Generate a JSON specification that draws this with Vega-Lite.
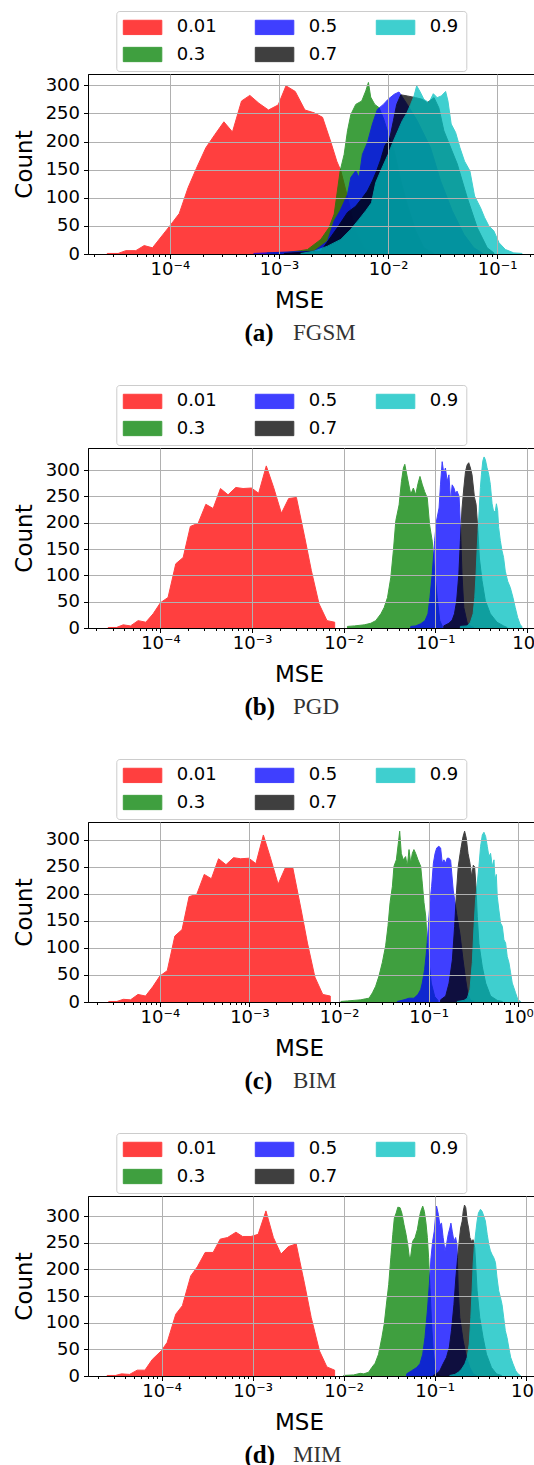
{
"$schema": "https://vega.github.io/schema/vega-lite/v6.json",
"background": "white",
"padding": {"left": 12, "top": 10, "right": 0, "bottom": 0},
"spacing": 194,
"bounds": "flush",
"config": {
  "font": "DejaVu Sans",
  "view": {"stroke": "black", "strokeWidth": 1},
  "axis": {"labelFont": "DejaVu Sans", "titleFont": "DejaVu Sans", "labelColor": "black", "titleColor": "black", "tickColor": "black", "domainColor": "black", "gridColor": "#b0b0b0", "gridWidth": 1, "titleFontWeight": "normal", "tickWidth": 1, "domainWidth": 1},
  "legend": {"orient": "none", "legendX": 28.3, "legendY": -63, "columns": 3, "padding": 7, "fillColor": "white", "strokeColor": "#cccccc", "cornerRadius": 3, "symbolType": "M-1.125,-0.894H3.6875V0.894H-1.125Z", "symbolSize": 256, "symbolStrokeWidth": 1, "labelFont": "DejaVu Sans", "labelFontSize": 18, "labelColor": "black", "labelOffset": 35.4, "rowPadding": 7.5, "columnPadding": 36, "labelExpr": "datum.label == '0.9' ? '0.9  ' : datum.label"}
},
"resolve": {"scale": {"x": "independent", "y": "independent", "color": "independent", "stroke": "independent"}},
"datasets": {
"a": [
{"eps":"0.01","mse":2.67e-5,"count":1},{"eps":"0.01","mse":3.36e-5,"count":1},{"eps":"0.01","mse":3.95e-5,"count":6},{"eps":"0.01","mse":4.88e-5,"count":6},{"eps":"0.01","mse":5.82e-5,"count":15},{"eps":"0.01","mse":6.93e-5,"count":11},{"eps":"0.01","mse":1.0e-4,"count":50},{"eps":"0.01","mse":1.22e-4,"count":72},{"eps":"0.01","mse":1.47e-4,"count":118},{"eps":"0.01","mse":1.75e-4,"count":152},{"eps":"0.01","mse":2.14e-4,"count":189},{"eps":"0.01","mse":2.58e-4,"count":212},{"eps":"0.01","mse":3.13e-4,"count":235},{"eps":"0.01","mse":3.75e-4,"count":217},{"eps":"0.01","mse":4.54e-4,"count":272},{"eps":"0.01","mse":5.41e-4,"count":282},{"eps":"0.01","mse":6.55e-4,"count":268},{"eps":"0.01","mse":8.02e-4,"count":256},{"eps":"0.01","mse":9.84e-4,"count":265},{"eps":"0.01","mse":1.16e-3,"count":299},{"eps":"0.01","mse":1.41e-3,"count":289},{"eps":"0.01","mse":1.73e-3,"count":256},{"eps":"0.01","mse":2.10e-3,"count":251},{"eps":"0.01","mse":2.51e-3,"count":243},{"eps":"0.01","mse":2.99e-3,"count":199},{"eps":"0.01","mse":3.39e-3,"count":165},{"eps":"0.01","mse":3.69e-3,"count":148},{"eps":"0.01","mse":4.27e-3,"count":100},{"eps":"0.01","mse":5.01e-3,"count":45},{"eps":"0.01","mse":6.03e-3,"count":12},{"eps":"0.01","mse":7.24e-3,"count":2},
{"eps":"0.3","mse":7.80e-4,"count":2},{"eps":"0.3","mse":1.19e-3,"count":3},{"eps":"0.3","mse":1.585e-3,"count":6},{"eps":"0.3","mse":1.83e-3,"count":8},{"eps":"0.3","mse":2.42e-3,"count":26},{"eps":"0.3","mse":2.88e-3,"count":47},{"eps":"0.3","mse":3.21e-3,"count":71},{"eps":"0.3","mse":3.64e-3,"count":148},{"eps":"0.3","mse":3.96e-3,"count":177},{"eps":"0.3","mse":4.25e-3,"count":219},{"eps":"0.3","mse":4.56e-3,"count":248},{"eps":"0.3","mse":5.06e-3,"count":266},{"eps":"0.3","mse":5.74e-3,"count":272},{"eps":"0.3","mse":6.25e-3,"count":290},{"eps":"0.3","mse":6.61e-3,"count":305},{"eps":"0.3","mse":6.93e-3,"count":279},{"eps":"0.3","mse":7.55e-3,"count":266},{"eps":"0.3","mse":8.28e-3,"count":260},{"eps":"0.3","mse":9.12e-3,"count":240},{"eps":"0.3","mse":1.0e-2,"count":215},{"eps":"0.3","mse":1.14e-2,"count":183},{"eps":"0.3","mse":1.31e-2,"count":130},{"eps":"0.3","mse":1.50e-2,"count":88},{"eps":"0.3","mse":1.79e-2,"count":41},{"eps":"0.3","mse":2.13e-2,"count":11},{"eps":"0.3","mse":2.63e-2,"count":1},
{"eps":"0.5","mse":5.89e-4,"count":1},{"eps":"0.5","mse":1.0e-3,"count":3},{"eps":"0.5","mse":1.41e-3,"count":4},{"eps":"0.5","mse":2.10e-3,"count":5},{"eps":"0.5","mse":2.79e-3,"count":23},{"eps":"0.5","mse":3.21e-3,"count":59},{"eps":"0.5","mse":3.64e-3,"count":77},{"eps":"0.5","mse":4.25e-3,"count":106},{"eps":"0.5","mse":4.56e-3,"count":136},{"eps":"0.5","mse":5.06e-3,"count":148},{"eps":"0.5","mse":5.43e-3,"count":136},{"eps":"0.5","mse":5.82e-3,"count":177},{"eps":"0.5","mse":6.47e-3,"count":198},{"eps":"0.5","mse":7.19e-3,"count":231},{"eps":"0.5","mse":7.98e-3,"count":257},{"eps":"0.5","mse":9.06e-3,"count":266},{"eps":"0.5","mse":1.0e-2,"count":275},{"eps":"0.5","mse":1.14e-2,"count":284},{"eps":"0.5","mse":1.26e-2,"count":288},{"eps":"0.5","mse":1.50e-2,"count":266},{"eps":"0.5","mse":1.85e-2,"count":237},{"eps":"0.5","mse":2.45e-2,"count":189},{"eps":"0.5","mse":3.03e-2,"count":130},{"eps":"0.5","mse":3.87e-2,"count":77},{"eps":"0.5","mse":4.95e-2,"count":35},{"eps":"0.5","mse":6.12e-2,"count":11},{"eps":"0.5","mse":7.29e-2,"count":2},
{"eps":"0.7","mse":1.12e-3,"count":1},{"eps":"0.7","mse":1.585e-3,"count":3},{"eps":"0.7","mse":2.42e-3,"count":5},{"eps":"0.7","mse":3.44e-3,"count":47},{"eps":"0.7","mse":4.25e-3,"count":74},{"eps":"0.7","mse":5.06e-3,"count":85},{"eps":"0.7","mse":5.82e-3,"count":100},{"eps":"0.7","mse":6.47e-3,"count":112},{"eps":"0.7","mse":7.19e-3,"count":130},{"eps":"0.7","mse":7.87e-3,"count":148},{"eps":"0.7","mse":8.57e-3,"count":168},{"eps":"0.7","mse":9.33e-3,"count":192},{"eps":"0.7","mse":1.04e-2,"count":207},{"eps":"0.7","mse":1.12e-2,"count":237},{"eps":"0.7","mse":1.20e-2,"count":266},{"eps":"0.7","mse":1.31e-2,"count":283},{"eps":"0.7","mse":1.50e-2,"count":281},{"eps":"0.7","mse":1.79e-2,"count":278},{"eps":"0.7","mse":2.06e-2,"count":275},{"eps":"0.7","mse":2.29e-2,"count":269},{"eps":"0.7","mse":2.64e-2,"count":278},{"eps":"0.7","mse":2.92e-2,"count":260},{"eps":"0.7","mse":3.25e-2,"count":219},{"eps":"0.7","mse":4.31e-2,"count":160},{"eps":"0.7","mse":5.32e-2,"count":100},{"eps":"0.7","mse":6.56e-2,"count":47},{"eps":"0.7","mse":8.11e-2,"count":11},{"eps":"0.7","mse":9.33e-2,"count":2},
{"eps":"0.9","mse":1.59e-3,"count":1},{"eps":"0.9","mse":2.10e-3,"count":5},{"eps":"0.9","mse":2.79e-3,"count":14},{"eps":"0.9","mse":3.69e-3,"count":26},{"eps":"0.9","mse":4.56e-3,"count":44},{"eps":"0.9","mse":5.43e-3,"count":62},{"eps":"0.9","mse":6.25e-3,"count":77},{"eps":"0.9","mse":7.05e-3,"count":91},{"eps":"0.9","mse":7.71e-3,"count":127},{"eps":"0.9","mse":8.57e-3,"count":148},{"eps":"0.9","mse":1.0e-2,"count":177},{"eps":"0.9","mse":1.12e-2,"count":201},{"eps":"0.9","mse":1.23e-2,"count":219},{"eps":"0.9","mse":1.35e-2,"count":237},{"eps":"0.9","mse":1.48e-2,"count":250},{"eps":"0.9","mse":1.61e-2,"count":266},{"eps":"0.9","mse":1.73e-2,"count":281},{"eps":"0.9","mse":1.83e-2,"count":299},{"eps":"0.9","mse":1.96e-2,"count":289},{"eps":"0.9","mse":2.13e-2,"count":275},{"eps":"0.9","mse":2.37e-2,"count":269},{"eps":"0.9","mse":2.60e-2,"count":285},{"eps":"0.9","mse":2.82e-2,"count":278},{"eps":"0.9","mse":3.08e-2,"count":281},{"eps":"0.9","mse":3.37e-2,"count":289},{"eps":"0.9","mse":3.54e-2,"count":272},{"eps":"0.9","mse":3.79e-2,"count":231},{"eps":"0.9","mse":4.16e-2,"count":216},{"eps":"0.9","mse":4.56e-2,"count":189},{"eps":"0.9","mse":5.02e-2,"count":165},{"eps":"0.9","mse":5.62e-2,"count":148},{"eps":"0.9","mse":6.21e-2,"count":103},{"eps":"0.9","mse":7.05e-2,"count":82},{"eps":"0.9","mse":7.66e-2,"count":65},{"eps":"0.9","mse":8.39e-2,"count":50},{"eps":"0.9","mse":9.33e-2,"count":41},{"eps":"0.9","mse":1.04e-1,"count":20},{"eps":"0.9","mse":1.19e-1,"count":8},{"eps":"0.9","mse":1.42e-1,"count":2},{"eps":"0.9","mse":1.69e-1,"count":1}
],
"b": [
{"eps":"0.01","mse":2.69e-5,"count":1},{"eps":"0.01","mse":3.31e-5,"count":1},{"eps":"0.01","mse":3.92e-5,"count":6},{"eps":"0.01","mse":4.71e-5,"count":4},{"eps":"0.01","mse":5.70e-5,"count":14},{"eps":"0.01","mse":6.92e-5,"count":11},{"eps":"0.01","mse":8.32e-5,"count":27},{"eps":"0.01","mse":1.0e-4,"count":48},{"eps":"0.01","mse":1.21e-4,"count":58},{"eps":"0.01","mse":1.47e-4,"count":122},{"eps":"0.01","mse":1.77e-4,"count":134},{"eps":"0.01","mse":2.12e-4,"count":193},{"eps":"0.01","mse":2.58e-4,"count":199},{"eps":"0.01","mse":3.13e-4,"count":235},{"eps":"0.01","mse":3.76e-4,"count":227},{"eps":"0.01","mse":4.52e-4,"count":265},{"eps":"0.01","mse":5.47e-4,"count":253},{"eps":"0.01","mse":6.64e-4,"count":267},{"eps":"0.01","mse":7.98e-4,"count":265},{"eps":"0.01","mse":9.84e-4,"count":266},{"eps":"0.01","mse":1.18e-3,"count":256},{"eps":"0.01","mse":1.43e-3,"count":308},{"eps":"0.01","mse":1.72e-3,"count":267},{"eps":"0.01","mse":2.09e-3,"count":218},{"eps":"0.01","mse":2.51e-3,"count":246},{"eps":"0.01","mse":3.05e-3,"count":248},{"eps":"0.01","mse":3.76e-3,"count":172},{"eps":"0.01","mse":4.44e-3,"count":109},{"eps":"0.01","mse":5.38e-3,"count":46},{"eps":"0.01","mse":6.58e-3,"count":14},{"eps":"0.01","mse":7.98e-3,"count":11},
{"eps":"0.3","mse":1.10e-2,"count":3},{"eps":"0.3","mse":1.31e-2,"count":4},{"eps":"0.3","mse":1.68e-2,"count":6},{"eps":"0.3","mse":1.98e-2,"count":9},{"eps":"0.3","mse":2.24e-2,"count":14},{"eps":"0.3","mse":2.55e-2,"count":27},{"eps":"0.3","mse":2.77e-2,"count":39},{"eps":"0.3","mse":3.01e-2,"count":58},{"eps":"0.3","mse":3.27e-2,"count":96},{"eps":"0.3","mse":3.49e-2,"count":147},{"eps":"0.3","mse":3.71e-2,"count":204},{"eps":"0.3","mse":4.03e-2,"count":234},{"eps":"0.3","mse":4.27e-2,"count":278},{"eps":"0.3","mse":4.49e-2,"count":304},{"eps":"0.3","mse":4.65e-2,"count":311},{"eps":"0.3","mse":4.97e-2,"count":285},{"eps":"0.3","mse":5.40e-2,"count":254},{"eps":"0.3","mse":5.77e-2,"count":266},{"eps":"0.3","mse":6.11e-2,"count":253},{"eps":"0.3","mse":6.49e-2,"count":275},{"eps":"0.3","mse":6.81e-2,"count":288},{"eps":"0.3","mse":7.23e-2,"count":272},{"eps":"0.3","mse":7.66e-2,"count":259},{"eps":"0.3","mse":8.18e-2,"count":247},{"eps":"0.3","mse":8.67e-2,"count":196},{"eps":"0.3","mse":9.27e-2,"count":165},{"eps":"0.3","mse":9.84e-2,"count":108},{"eps":"0.3","mse":1.05e-1,"count":58},{"eps":"0.3","mse":1.12e-1,"count":14},{"eps":"0.3","mse":1.19e-1,"count":4},
{"eps":"0.5","mse":5.40e-2,"count":3},{"eps":"0.5","mse":6.11e-2,"count":4},{"eps":"0.5","mse":6.93e-2,"count":8},{"eps":"0.5","mse":7.73e-2,"count":14},{"eps":"0.5","mse":8.32e-2,"count":27},{"eps":"0.5","mse":8.75e-2,"count":58},{"eps":"0.5","mse":9.27e-2,"count":103},{"eps":"0.5","mse":9.84e-2,"count":166},{"eps":"0.5","mse":1.03e-1,"count":203},{"eps":"0.5","mse":1.10e-1,"count":228},{"eps":"0.5","mse":1.14e-1,"count":272},{"eps":"0.5","mse":1.19e-1,"count":316},{"eps":"0.5","mse":1.24e-1,"count":294},{"eps":"0.5","mse":1.29e-1,"count":304},{"eps":"0.5","mse":1.35e-1,"count":279},{"eps":"0.5","mse":1.41e-1,"count":291},{"eps":"0.5","mse":1.47e-1,"count":241},{"eps":"0.5","mse":1.53e-1,"count":272},{"eps":"0.5","mse":1.60e-1,"count":266},{"eps":"0.5","mse":1.66e-1,"count":256},{"eps":"0.5","mse":1.73e-1,"count":260},{"eps":"0.5","mse":1.82e-1,"count":250},{"eps":"0.5","mse":1.88e-1,"count":196},{"eps":"0.5","mse":1.96e-1,"count":101},{"eps":"0.5","mse":2.05e-1,"count":39},{"eps":"0.5","mse":2.23e-1,"count":10},{"eps":"0.5","mse":2.42e-1,"count":4},{"eps":"0.5","mse":2.63e-1,"count":1},
{"eps":"0.7","mse":1.24e-1,"count":4},{"eps":"0.7","mse":1.41e-1,"count":9},{"eps":"0.7","mse":1.53e-1,"count":15},{"eps":"0.7","mse":1.62e-1,"count":27},{"eps":"0.7","mse":1.71e-1,"count":51},{"eps":"0.7","mse":1.81e-1,"count":103},{"eps":"0.7","mse":1.88e-1,"count":166},{"eps":"0.7","mse":1.96e-1,"count":228},{"eps":"0.7","mse":2.05e-1,"count":266},{"eps":"0.7","mse":2.14e-1,"count":298},{"eps":"0.7","mse":2.23e-1,"count":310},{"eps":"0.7","mse":2.32e-1,"count":314},{"eps":"0.7","mse":2.42e-1,"count":304},{"eps":"0.7","mse":2.52e-1,"count":291},{"eps":"0.7","mse":2.68e-1,"count":248},{"eps":"0.7","mse":2.79e-1,"count":235},{"eps":"0.7","mse":2.91e-1,"count":190},{"eps":"0.7","mse":3.03e-1,"count":133},{"eps":"0.7","mse":3.24e-1,"count":90},{"eps":"0.7","mse":3.52e-1,"count":52},{"eps":"0.7","mse":3.99e-1,"count":27},{"eps":"0.7","mse":4.72e-1,"count":11},{"eps":"0.7","mse":5.57e-1,"count":4},{"eps":"0.7","mse":6.07e-1,"count":1},
{"eps":"0.9","mse":1.88e-1,"count":3},{"eps":"0.9","mse":2.23e-1,"count":4},{"eps":"0.9","mse":2.42e-1,"count":11},{"eps":"0.9","mse":2.59e-1,"count":27},{"eps":"0.9","mse":2.70e-1,"count":58},{"eps":"0.9","mse":2.79e-1,"count":103},{"eps":"0.9","mse":2.86e-1,"count":147},{"eps":"0.9","mse":2.93e-1,"count":184},{"eps":"0.9","mse":3.01e-1,"count":222},{"eps":"0.9","mse":3.11e-1,"count":267},{"eps":"0.9","mse":3.19e-1,"count":291},{"eps":"0.9","mse":3.30e-1,"count":317},{"eps":"0.9","mse":3.41e-1,"count":325},{"eps":"0.9","mse":3.52e-1,"count":320},{"eps":"0.9","mse":3.67e-1,"count":305},{"eps":"0.9","mse":3.83e-1,"count":292},{"eps":"0.9","mse":3.99e-1,"count":273},{"eps":"0.9","mse":4.17e-1,"count":236},{"eps":"0.9","mse":4.35e-1,"count":220},{"eps":"0.9","mse":4.53e-1,"count":223},{"eps":"0.9","mse":4.65e-1,"count":236},{"eps":"0.9","mse":4.80e-1,"count":223},{"eps":"0.9","mse":4.92e-1,"count":191},{"eps":"0.9","mse":5.13e-1,"count":166},{"eps":"0.9","mse":5.35e-1,"count":147},{"eps":"0.9","mse":5.57e-1,"count":134},{"eps":"0.9","mse":5.81e-1,"count":108},{"eps":"0.9","mse":6.17e-1,"count":89},{"eps":"0.9","mse":6.59e-1,"count":77},{"eps":"0.9","mse":7.05e-1,"count":58},{"eps":"0.9","mse":7.46e-1,"count":39},{"eps":"0.9","mse":7.93e-1,"count":20},{"eps":"0.9","mse":8.47e-1,"count":6},{"eps":"0.9","mse":8.83e-1,"count":3}
],
"c": [
{"eps":"0.01","mse":2.69e-5,"count":1},{"eps":"0.01","mse":3.31e-5,"count":1},{"eps":"0.01","mse":3.92e-5,"count":5},{"eps":"0.01","mse":4.71e-5,"count":4},{"eps":"0.01","mse":5.70e-5,"count":14},{"eps":"0.01","mse":6.92e-5,"count":11},{"eps":"0.01","mse":8.32e-5,"count":28},{"eps":"0.01","mse":1.0e-4,"count":48},{"eps":"0.01","mse":1.21e-4,"count":58},{"eps":"0.01","mse":1.47e-4,"count":122},{"eps":"0.01","mse":1.77e-4,"count":134},{"eps":"0.01","mse":2.12e-4,"count":195},{"eps":"0.01","mse":2.58e-4,"count":199},{"eps":"0.01","mse":3.13e-4,"count":236},{"eps":"0.01","mse":3.76e-4,"count":228},{"eps":"0.01","mse":4.52e-4,"count":265},{"eps":"0.01","mse":5.47e-4,"count":254},{"eps":"0.01","mse":6.64e-4,"count":267},{"eps":"0.01","mse":7.98e-4,"count":265},{"eps":"0.01","mse":9.84e-4,"count":266},{"eps":"0.01","mse":1.18e-3,"count":256},{"eps":"0.01","mse":1.43e-3,"count":309},{"eps":"0.01","mse":1.72e-3,"count":266},{"eps":"0.01","mse":2.09e-3,"count":218},{"eps":"0.01","mse":2.51e-3,"count":248},{"eps":"0.01","mse":3.05e-3,"count":248},{"eps":"0.01","mse":3.76e-3,"count":172},{"eps":"0.01","mse":4.44e-3,"count":109},{"eps":"0.01","mse":5.38e-3,"count":46},{"eps":"0.01","mse":6.58e-3,"count":14},{"eps":"0.01","mse":7.98e-3,"count":11},
{"eps":"0.3","mse":1.05e-2,"count":1},{"eps":"0.3","mse":1.24e-2,"count":2},{"eps":"0.3","mse":1.47e-2,"count":3},{"eps":"0.3","mse":1.75e-2,"count":4},{"eps":"0.3","mse":1.98e-2,"count":6},{"eps":"0.3","mse":2.16e-2,"count":7},{"eps":"0.3","mse":2.36e-2,"count":17},{"eps":"0.3","mse":2.56e-2,"count":29},{"eps":"0.3","mse":2.79e-2,"count":48},{"eps":"0.3","mse":3.04e-2,"count":73},{"eps":"0.3","mse":3.31e-2,"count":104},{"eps":"0.3","mse":3.52e-2,"count":141},{"eps":"0.3","mse":3.71e-2,"count":184},{"eps":"0.3","mse":3.94e-2,"count":214},{"eps":"0.3","mse":4.10e-2,"count":251},{"eps":"0.3","mse":4.36e-2,"count":263},{"eps":"0.3","mse":4.59e-2,"count":294},{"eps":"0.3","mse":4.75e-2,"count":316},{"eps":"0.3","mse":4.95e-2,"count":275},{"eps":"0.3","mse":5.21e-2,"count":263},{"eps":"0.3","mse":5.53e-2,"count":269},{"eps":"0.3","mse":5.78e-2,"count":251},{"eps":"0.3","mse":6.04e-2,"count":282},{"eps":"0.3","mse":6.30e-2,"count":257},{"eps":"0.3","mse":6.58e-2,"count":275},{"eps":"0.3","mse":6.85e-2,"count":282},{"eps":"0.3","mse":7.16e-2,"count":275},{"eps":"0.3","mse":7.60e-2,"count":263},{"eps":"0.3","mse":8.15e-2,"count":251},{"eps":"0.3","mse":8.49e-2,"count":220},{"eps":"0.3","mse":8.87e-2,"count":184},{"eps":"0.3","mse":9.27e-2,"count":159},{"eps":"0.3","mse":9.66e-2,"count":110},{"eps":"0.3","mse":1.01e-1,"count":73},{"eps":"0.3","mse":1.07e-1,"count":35},{"eps":"0.3","mse":1.17e-1,"count":10},{"eps":"0.3","mse":1.27e-1,"count":3},
{"eps":"0.5","mse":4.48e-2,"count":1},{"eps":"0.5","mse":5.31e-2,"count":4},{"eps":"0.5","mse":6.04e-2,"count":7},{"eps":"0.5","mse":6.85e-2,"count":7},{"eps":"0.5","mse":7.60e-2,"count":14},{"eps":"0.5","mse":8.15e-2,"count":23},{"eps":"0.5","mse":8.49e-2,"count":35},{"eps":"0.5","mse":9.02e-2,"count":60},{"eps":"0.5","mse":9.51e-2,"count":97},{"eps":"0.5","mse":9.91e-2,"count":140},{"eps":"0.5","mse":1.04e-1,"count":189},{"eps":"0.5","mse":1.08e-1,"count":214},{"eps":"0.5","mse":1.13e-1,"count":257},{"eps":"0.5","mse":1.18e-1,"count":275},{"eps":"0.5","mse":1.23e-1,"count":285},{"eps":"0.5","mse":1.30e-1,"count":288},{"eps":"0.5","mse":1.36e-1,"count":285},{"eps":"0.5","mse":1.42e-1,"count":257},{"eps":"0.5","mse":1.48e-1,"count":263},{"eps":"0.5","mse":1.55e-1,"count":257},{"eps":"0.5","mse":1.61e-1,"count":266},{"eps":"0.5","mse":1.69e-1,"count":266},{"eps":"0.5","mse":1.76e-1,"count":262},{"eps":"0.5","mse":1.88e-1,"count":207},{"eps":"0.5","mse":2.05e-1,"count":164},{"eps":"0.5","mse":2.23e-1,"count":127},{"eps":"0.5","mse":2.42e-1,"count":78},{"eps":"0.5","mse":2.59e-1,"count":41},{"eps":"0.5","mse":2.75e-1,"count":14},{"eps":"0.5","mse":2.94e-1,"count":3},{"eps":"0.5","mse":3.21e-1,"count":1},
{"eps":"0.7","mse":1.36e-1,"count":4},{"eps":"0.7","mse":1.55e-1,"count":11},{"eps":"0.7","mse":1.69e-1,"count":35},{"eps":"0.7","mse":1.84e-1,"count":78},{"eps":"0.7","mse":1.95e-1,"count":140},{"eps":"0.7","mse":2.05e-1,"count":207},{"eps":"0.7","mse":2.14e-1,"count":251},{"eps":"0.7","mse":2.28e-1,"count":282},{"eps":"0.7","mse":2.42e-1,"count":306},{"eps":"0.7","mse":2.52e-1,"count":316},{"eps":"0.7","mse":2.63e-1,"count":303},{"eps":"0.7","mse":2.75e-1,"count":275},{"eps":"0.7","mse":2.89e-1,"count":257},{"eps":"0.7","mse":3.02e-1,"count":232},{"eps":"0.7","mse":3.15e-1,"count":253},{"eps":"0.7","mse":3.26e-1,"count":250},{"eps":"0.7","mse":3.37e-1,"count":215},{"eps":"0.7","mse":3.49e-1,"count":158},{"eps":"0.7","mse":3.64e-1,"count":108},{"eps":"0.7","mse":3.97e-1,"count":65},{"eps":"0.7","mse":4.33e-1,"count":35},{"eps":"0.7","mse":4.91e-1,"count":11},{"eps":"0.7","mse":5.83e-1,"count":3},{"eps":"0.7","mse":6.64e-1,"count":1},
{"eps":"0.9","mse":2.09e-1,"count":1},{"eps":"0.9","mse":2.48e-1,"count":3},{"eps":"0.9","mse":2.70e-1,"count":7},{"eps":"0.9","mse":2.89e-1,"count":23},{"eps":"0.9","mse":3.07e-1,"count":73},{"eps":"0.9","mse":3.21e-1,"count":140},{"eps":"0.9","mse":3.34e-1,"count":189},{"eps":"0.9","mse":3.49e-1,"count":220},{"eps":"0.9","mse":3.64e-1,"count":251},{"eps":"0.9","mse":3.80e-1,"count":288},{"eps":"0.9","mse":3.97e-1,"count":309},{"eps":"0.9","mse":4.14e-1,"count":314},{"eps":"0.9","mse":4.33e-1,"count":306},{"eps":"0.9","mse":4.51e-1,"count":288},{"eps":"0.9","mse":4.71e-1,"count":269},{"eps":"0.9","mse":4.91e-1,"count":275},{"eps":"0.9","mse":5.13e-1,"count":251},{"eps":"0.9","mse":5.36e-1,"count":263},{"eps":"0.9","mse":5.50e-1,"count":226},{"eps":"0.9","mse":5.69e-1,"count":236},{"eps":"0.9","mse":5.83e-1,"count":195},{"eps":"0.9","mse":6.08e-1,"count":170},{"eps":"0.9","mse":6.35e-1,"count":146},{"eps":"0.9","mse":6.64e-1,"count":140},{"eps":"0.9","mse":6.92e-1,"count":115},{"eps":"0.9","mse":7.23e-1,"count":109},{"eps":"0.9","mse":7.53e-1,"count":84},{"eps":"0.9","mse":7.87e-1,"count":73},{"eps":"0.9","mse":8.22e-1,"count":54},{"eps":"0.9","mse":8.57e-1,"count":35},{"eps":"0.9","mse":8.95e-1,"count":26},{"eps":"0.9","mse":9.33e-1,"count":17},{"eps":"0.9","mse":9.91e-1,"count":4},{"eps":"0.9","mse":1.062,"count":1}
],
"d": [
{"eps":"0.01","mse":2.52e-5,"count":1},{"eps":"0.01","mse":3.11e-5,"count":1},{"eps":"0.01","mse":3.62e-5,"count":4},{"eps":"0.01","mse":4.44e-5,"count":3},{"eps":"0.01","mse":5.40e-5,"count":11},{"eps":"0.01","mse":6.55e-5,"count":11},{"eps":"0.01","mse":7.89e-5,"count":31},{"eps":"0.01","mse":1.0e-4,"count":48},{"eps":"0.01","mse":1.15e-4,"count":63},{"eps":"0.01","mse":1.43e-4,"count":116},{"eps":"0.01","mse":1.69e-4,"count":132},{"eps":"0.01","mse":2.09e-4,"count":188},{"eps":"0.01","mse":2.47e-4,"count":205},{"eps":"0.01","mse":3.01e-4,"count":232},{"eps":"0.01","mse":3.68e-4,"count":232},{"eps":"0.01","mse":4.40e-4,"count":257},{"eps":"0.01","mse":5.30e-4,"count":260},{"eps":"0.01","mse":6.55e-4,"count":270},{"eps":"0.01","mse":7.76e-4,"count":262},{"eps":"0.01","mse":9.59e-4,"count":262},{"eps":"0.01","mse":1.15e-3,"count":266},{"eps":"0.01","mse":1.40e-3,"count":310},{"eps":"0.01","mse":1.69e-3,"count":260},{"eps":"0.01","mse":2.05e-3,"count":229},{"eps":"0.01","mse":2.47e-3,"count":243},{"eps":"0.01","mse":3.01e-3,"count":248},{"eps":"0.01","mse":3.72e-3,"count":173},{"eps":"0.01","mse":4.40e-3,"count":110},{"eps":"0.01","mse":5.43e-3,"count":47},{"eps":"0.01","mse":6.55e-3,"count":17},{"eps":"0.01","mse":7.96e-3,"count":11},
{"eps":"0.3","mse":1.0e-2,"count":1},{"eps":"0.3","mse":1.29e-2,"count":2},{"eps":"0.3","mse":1.52e-2,"count":5},{"eps":"0.3","mse":1.66e-2,"count":4},{"eps":"0.3","mse":1.88e-2,"count":7},{"eps":"0.3","mse":2.04e-2,"count":16},{"eps":"0.3","mse":2.22e-2,"count":24},{"eps":"0.3","mse":2.42e-2,"count":41},{"eps":"0.3","mse":2.63e-2,"count":72},{"eps":"0.3","mse":2.79e-2,"count":97},{"eps":"0.3","mse":2.98e-2,"count":141},{"eps":"0.3","mse":3.13e-2,"count":172},{"eps":"0.3","mse":3.30e-2,"count":222},{"eps":"0.3","mse":3.47e-2,"count":266},{"eps":"0.3","mse":3.61e-2,"count":297},{"eps":"0.3","mse":3.78e-2,"count":306},{"eps":"0.3","mse":3.94e-2,"count":317},{"eps":"0.3","mse":4.17e-2,"count":316},{"eps":"0.3","mse":4.36e-2,"count":306},{"eps":"0.3","mse":4.61e-2,"count":284},{"eps":"0.3","mse":4.85e-2,"count":266},{"eps":"0.3","mse":5.06e-2,"count":247},{"eps":"0.3","mse":5.28e-2,"count":222},{"eps":"0.3","mse":5.46e-2,"count":225},{"eps":"0.3","mse":5.74e-2,"count":253},{"eps":"0.3","mse":6.10e-2,"count":260},{"eps":"0.3","mse":6.46e-2,"count":275},{"eps":"0.3","mse":6.79e-2,"count":297},{"eps":"0.3","mse":7.03e-2,"count":309},{"eps":"0.3","mse":7.40e-2,"count":319},{"eps":"0.3","mse":7.71e-2,"count":309},{"eps":"0.3","mse":8.04e-2,"count":287},{"eps":"0.3","mse":8.32e-2,"count":260},{"eps":"0.3","mse":8.59e-2,"count":222},{"eps":"0.3","mse":8.89e-2,"count":166},{"eps":"0.3","mse":9.27e-2,"count":97},{"eps":"0.3","mse":9.66e-2,"count":47},{"eps":"0.3","mse":1.01e-1,"count":16},{"eps":"0.3","mse":1.07e-1,"count":4},{"eps":"0.3","mse":1.14e-1,"count":1},
{"eps":"0.5","mse":4.93e-2,"count":4},{"eps":"0.5","mse":5.60e-2,"count":10},{"eps":"0.5","mse":6.35e-2,"count":16},{"eps":"0.5","mse":6.90e-2,"count":23},{"eps":"0.5","mse":7.40e-2,"count":41},{"eps":"0.5","mse":7.83e-2,"count":72},{"eps":"0.5","mse":8.32e-2,"count":122},{"eps":"0.5","mse":8.75e-2,"count":172},{"eps":"0.5","mse":9.12e-2,"count":222},{"eps":"0.5","mse":9.51e-2,"count":253},{"eps":"0.5","mse":9.91e-2,"count":272},{"eps":"0.5","mse":1.02e-1,"count":297},{"eps":"0.5","mse":1.05e-1,"count":319},{"eps":"0.5","mse":1.10e-1,"count":303},{"eps":"0.5","mse":1.14e-1,"count":284},{"eps":"0.5","mse":1.19e-1,"count":287},{"eps":"0.5","mse":1.24e-1,"count":260},{"eps":"0.5","mse":1.30e-1,"count":235},{"eps":"0.5","mse":1.35e-1,"count":247},{"eps":"0.5","mse":1.41e-1,"count":266},{"eps":"0.5","mse":1.47e-1,"count":278},{"eps":"0.5","mse":1.51e-1,"count":287},{"eps":"0.5","mse":1.56e-1,"count":272},{"eps":"0.5","mse":1.63e-1,"count":253},{"eps":"0.5","mse":1.70e-1,"count":260},{"eps":"0.5","mse":1.76e-1,"count":247},{"eps":"0.5","mse":1.82e-1,"count":160},{"eps":"0.5","mse":1.89e-1,"count":110},{"eps":"0.5","mse":2.06e-1,"count":66},{"eps":"0.5","mse":2.24e-1,"count":35},{"eps":"0.5","mse":2.44e-1,"count":16},{"eps":"0.5","mse":2.65e-1,"count":4},{"eps":"0.5","mse":2.88e-1,"count":1},
{"eps":"0.7","mse":9.66e-2,"count":1},{"eps":"0.7","mse":1.05e-1,"count":4},{"eps":"0.7","mse":1.14e-1,"count":10},{"eps":"0.7","mse":1.24e-1,"count":23},{"eps":"0.7","mse":1.35e-1,"count":35},{"eps":"0.7","mse":1.45e-1,"count":54},{"eps":"0.7","mse":1.53e-1,"count":85},{"eps":"0.7","mse":1.63e-1,"count":134},{"eps":"0.7","mse":1.71e-1,"count":184},{"eps":"0.7","mse":1.79e-1,"count":222},{"eps":"0.7","mse":1.86e-1,"count":253},{"eps":"0.7","mse":1.93e-1,"count":278},{"eps":"0.7","mse":2.01e-1,"count":291},{"eps":"0.7","mse":2.06e-1,"count":309},{"eps":"0.7","mse":2.13e-1,"count":321},{"eps":"0.7","mse":2.20e-1,"count":316},{"eps":"0.7","mse":2.28e-1,"count":291},{"eps":"0.7","mse":2.36e-1,"count":278},{"eps":"0.7","mse":2.44e-1,"count":260},{"eps":"0.7","mse":2.54e-1,"count":253},{"eps":"0.7","mse":2.65e-1,"count":256},{"eps":"0.7","mse":2.76e-1,"count":241},{"eps":"0.7","mse":2.84e-1,"count":203},{"eps":"0.7","mse":2.93e-1,"count":160},{"eps":"0.7","mse":3.13e-1,"count":110},{"eps":"0.7","mse":3.41e-1,"count":72},{"eps":"0.7","mse":3.71e-1,"count":41},{"eps":"0.7","mse":4.21e-1,"count":16},{"eps":"0.7","mse":4.78e-1,"count":4},{"eps":"0.7","mse":5.42e-1,"count":1},
{"eps":"0.9","mse":1.47e-1,"count":1},{"eps":"0.9","mse":1.67e-1,"count":3},{"eps":"0.9","mse":1.82e-1,"count":7},{"eps":"0.9","mse":1.98e-1,"count":13},{"eps":"0.9","mse":2.15e-1,"count":23},{"eps":"0.9","mse":2.28e-1,"count":35},{"eps":"0.9","mse":2.40e-1,"count":60},{"eps":"0.9","mse":2.50e-1,"count":110},{"eps":"0.9","mse":2.58e-1,"count":160},{"eps":"0.9","mse":2.65e-1,"count":210},{"eps":"0.9","mse":2.74e-1,"count":247},{"eps":"0.9","mse":2.84e-1,"count":272},{"eps":"0.9","mse":2.93e-1,"count":291},{"eps":"0.9","mse":3.03e-1,"count":306},{"eps":"0.9","mse":3.19e-1,"count":313},{"eps":"0.9","mse":3.33e-1,"count":309},{"eps":"0.9","mse":3.47e-1,"count":300},{"eps":"0.9","mse":3.61e-1,"count":291},{"eps":"0.9","mse":3.78e-1,"count":266},{"eps":"0.9","mse":3.94e-1,"count":247},{"eps":"0.9","mse":4.10e-1,"count":235},{"eps":"0.9","mse":4.28e-1,"count":228},{"eps":"0.9","mse":4.47e-1,"count":222},{"eps":"0.9","mse":4.66e-1,"count":213},{"eps":"0.9","mse":4.85e-1,"count":184},{"eps":"0.9","mse":5.06e-1,"count":160},{"eps":"0.9","mse":5.28e-1,"count":148},{"eps":"0.9","mse":5.51e-1,"count":134},{"eps":"0.9","mse":5.74e-1,"count":110},{"eps":"0.9","mse":5.98e-1,"count":85},{"eps":"0.9","mse":6.25e-1,"count":72},{"eps":"0.9","mse":6.52e-1,"count":54},{"eps":"0.9","mse":6.85e-1,"count":35},{"eps":"0.9","mse":7.26e-1,"count":23},{"eps":"0.9","mse":7.78e-1,"count":10},{"eps":"0.9","mse":8.24e-1,"count":4},{"eps":"0.9","mse":8.75e-1,"count":1}
]
},
"vconcat": [
{
  "width": 448, "height": 180,
  "data": {"name": "a"},
  "encoding": {
    "y": {"field": "count", "type": "quantitative", "stack": null, "scale": {"domain": [0, 320], "nice": false}, "axis": {"values": [0,50,100,150,200,250,300], "grid": true, "zindex": 1, "tickSize": 4.5, "labelPadding": 4, "labelFontSize": 18, "title": "Count", "titleFontSize": 23, "titleX": -64, "titleY": 90, "titleAlign": "center", "titleBaseline": "middle", "titleAngle": -90}},
    "color": {"field": "eps", "type": "nominal", "title": null, "scale": {"domain": ["0.01","0.3","0.5","0.7","0.9"], "range": ["#ff0000","#008000","#0000ff","#000000","#00bfbf"]}},
    "stroke": {"field": "eps", "type": "nominal", "title": null, "scale": {"domain": ["0.01","0.3","0.5","0.7","0.9"], "range": ["#ff0000","#008000","#0000ff","#000000","#00bfbf"]}}
  },
  "layer": [
    {"transform": [{"filter": {"field": "eps", "equal": "0.01"}}], "mark": {"type": "area", "opacity": 0.75, "strokeWidth": 1}, "encoding": {"x": {"field": "mse", "type": "quantitative", "scale": {"type": "log", "domain": [1.778e-5, 0.2270], "nice": false}, "axis": {"orient": "bottom", "values": [0.0001, 0.001, 0.01, 0.1], "labelExpr": "datum.value < 0.0005 ? '10⁻⁴' : datum.value < 0.005 ? '10⁻³' : datum.value < 0.05 ? '10⁻²' : datum.value < 0.5 ? '10⁻¹' : '10⁰'", "grid": true, "zindex": 1, "tickSize": 4.5, "labelPadding": 2, "labelFontSize": 18, "labelFlush": false, "labelOverlap": false, "title": "MSE", "titleFontSize": 23, "titleX": 211, "titleY": 46.5, "titleAlign": "center", "titleBaseline": "middle", "titleAngle": 0}}}},
    {"transform": [{"filter": {"field": "eps", "equal": "0.3"}}], "mark": {"type": "area", "opacity": 0.75, "strokeWidth": 1}, "encoding": {"x": {"field": "mse", "type": "quantitative", "scale": {"type": "log", "domain": [1.778e-5, 0.2270], "nice": false}, "axis": {"orient": "bottom", "values": [0.00002,0.00003,0.00004,0.00005,0.00006,0.00007,0.00008,0.00009,0.0002,0.0003,0.0004,0.0005,0.0006,0.0007,0.0008,0.0009,0.002,0.003,0.004,0.005,0.006,0.007,0.008,0.009,0.02,0.03,0.04,0.05,0.06,0.07,0.08,0.09,0.2], "labels": false, "domain": false, "grid": false, "tickSize": 2.5, "title": "FGSM", "titleFont": "Liberation Serif", "titleFontSize": 23, "titleFontWeight": "normal", "titleColor": "#333333", "titleX": 204.5, "titleY": 78, "titleAlign": "left", "titleBaseline": "middle", "titleAngle": 0}}}},
    {"transform": [{"filter": {"field": "eps", "equal": "0.5"}}], "mark": {"type": "area", "opacity": 0.75, "strokeWidth": 1}, "encoding": {"x": {"field": "mse", "type": "quantitative", "scale": {"type": "log", "domain": [1.778e-5, 0.2270], "nice": false}, "axis": {"orient": "bottom", "labels": false, "ticks": false, "domain": false, "grid": false, "title": "(a)", "titleFont": "Liberation Serif", "titleFontSize": 25, "titleFontWeight": "bold", "titleColor": "black", "titleX": 156, "titleY": 78, "titleAlign": "left", "titleBaseline": "middle", "titleAngle": 0}}}},
    {"transform": [{"filter": {"field": "eps", "equal": "0.7"}}], "mark": {"type": "area", "opacity": 0.75, "strokeWidth": 1}, "encoding": {"x": {"field": "mse", "type": "quantitative", "scale": {"type": "log", "domain": [1.778e-5, 0.2270], "nice": false}, "axis": null}}},
    {"transform": [{"filter": {"field": "eps", "equal": "0.9"}}], "mark": {"type": "area", "opacity": 0.75, "strokeWidth": 1}, "encoding": {"x": {"field": "mse", "type": "quantitative", "scale": {"type": "log", "domain": [1.778e-5, 0.2270], "nice": false}, "axis": null}}}
  ],
  "resolve": {"axis": {"x": "independent"}}
},
{
  "width": 448, "height": 180,
  "data": {"name": "b"},
  "encoding": {
    "y": {"field": "count", "type": "quantitative", "stack": null, "scale": {"domain": [0, 342], "nice": false}, "axis": {"values": [0,50,100,150,200,250,300], "grid": true, "zindex": 1, "tickSize": 4.5, "labelPadding": 4, "labelFontSize": 18, "title": "Count", "titleFontSize": 23, "titleX": -64, "titleY": 90, "titleAlign": "center", "titleBaseline": "middle", "titleAngle": -90}},
    "color": {"field": "eps", "type": "nominal", "title": null, "scale": {"domain": ["0.01","0.3","0.5","0.7","0.9"], "range": ["#ff0000","#008000","#0000ff","#000000","#00bfbf"]}},
    "stroke": {"field": "eps", "type": "nominal", "title": null, "scale": {"domain": ["0.01","0.3","0.5","0.7","0.9"], "range": ["#ff0000","#008000","#0000ff","#000000","#00bfbf"]}}
  },
  "layer": [
    {"transform": [{"filter": {"field": "eps", "equal": "0.01"}}], "mark": {"type": "area", "opacity": 0.75, "strokeWidth": 1}, "encoding": {"x": {"field": "mse", "type": "quantitative", "scale": {"type": "log", "domain": [1.618e-5, 1.258], "nice": false}, "axis": {"orient": "bottom", "values": [0.0001, 0.001, 0.01, 0.1, 1], "labelExpr": "datum.value < 0.0005 ? '10⁻⁴' : datum.value < 0.005 ? '10⁻³' : datum.value < 0.05 ? '10⁻²' : datum.value < 0.5 ? '10⁻¹' : '10⁰'", "grid": true, "zindex": 1, "tickSize": 4.5, "labelPadding": 2, "labelFontSize": 18, "labelFlush": false, "labelOverlap": false, "title": "MSE", "titleFontSize": 23, "titleX": 211, "titleY": 46.5, "titleAlign": "center", "titleBaseline": "middle", "titleAngle": 0}}}},
    {"transform": [{"filter": {"field": "eps", "equal": "0.3"}}], "mark": {"type": "area", "opacity": 0.75, "strokeWidth": 1}, "encoding": {"x": {"field": "mse", "type": "quantitative", "scale": {"type": "log", "domain": [1.618e-5, 1.258], "nice": false}, "axis": {"orient": "bottom", "values": [0.00002,0.00003,0.00004,0.00005,0.00006,0.00007,0.00008,0.00009,0.0002,0.0003,0.0004,0.0005,0.0006,0.0007,0.0008,0.0009,0.002,0.003,0.004,0.005,0.006,0.007,0.008,0.009,0.02,0.03,0.04,0.05,0.06,0.07,0.08,0.09,0.2,0.3,0.4,0.5,0.6,0.7,0.8,0.9], "labels": false, "domain": false, "grid": false, "tickSize": 2.5, "title": "PGD", "titleFont": "Liberation Serif", "titleFontSize": 23, "titleFontWeight": "normal", "titleColor": "#333333", "titleX": 204.5, "titleY": 78, "titleAlign": "left", "titleBaseline": "middle", "titleAngle": 0}}}},
    {"transform": [{"filter": {"field": "eps", "equal": "0.5"}}], "mark": {"type": "area", "opacity": 0.75, "strokeWidth": 1}, "encoding": {"x": {"field": "mse", "type": "quantitative", "scale": {"type": "log", "domain": [1.618e-5, 1.258], "nice": false}, "axis": {"orient": "bottom", "labels": false, "ticks": false, "domain": false, "grid": false, "title": "(b)", "titleFont": "Liberation Serif", "titleFontSize": 25, "titleFontWeight": "bold", "titleColor": "black", "titleX": 156, "titleY": 78, "titleAlign": "left", "titleBaseline": "middle", "titleAngle": 0}}}},
    {"transform": [{"filter": {"field": "eps", "equal": "0.7"}}], "mark": {"type": "area", "opacity": 0.75, "strokeWidth": 1}, "encoding": {"x": {"field": "mse", "type": "quantitative", "scale": {"type": "log", "domain": [1.618e-5, 1.258], "nice": false}, "axis": null}}},
    {"transform": [{"filter": {"field": "eps", "equal": "0.9"}}], "mark": {"type": "area", "opacity": 0.75, "strokeWidth": 1}, "encoding": {"x": {"field": "mse", "type": "quantitative", "scale": {"type": "log", "domain": [1.618e-5, 1.258], "nice": false}, "axis": null}}}
  ],
  "resolve": {"axis": {"x": "independent"}}
},
{
  "width": 448, "height": 180,
  "data": {"name": "c"},
  "encoding": {
    "y": {"field": "count", "type": "quantitative", "stack": null, "scale": {"domain": [0, 333], "nice": false}, "axis": {"values": [0,50,100,150,200,250,300], "grid": true, "zindex": 1, "tickSize": 4.5, "labelPadding": 4, "labelFontSize": 18, "title": "Count", "titleFontSize": 23, "titleX": -64, "titleY": 90, "titleAlign": "center", "titleBaseline": "middle", "titleAngle": -90}},
    "color": {"field": "eps", "type": "nominal", "title": null, "scale": {"domain": ["0.01","0.3","0.5","0.7","0.9"], "range": ["#ff0000","#008000","#0000ff","#000000","#00bfbf"]}},
    "stroke": {"field": "eps", "type": "nominal", "title": null, "scale": {"domain": ["0.01","0.3","0.5","0.7","0.9"], "range": ["#ff0000","#008000","#0000ff","#000000","#00bfbf"]}}
  },
  "layer": [
    {"transform": [{"filter": {"field": "eps", "equal": "0.01"}}], "mark": {"type": "area", "opacity": 0.75, "strokeWidth": 1}, "encoding": {"x": {"field": "mse", "type": "quantitative", "scale": {"type": "log", "domain": [1.578e-5, 1.578], "nice": false}, "axis": {"orient": "bottom", "values": [0.0001, 0.001, 0.01, 0.1, 1], "labelExpr": "datum.value < 0.0005 ? '10⁻⁴' : datum.value < 0.005 ? '10⁻³' : datum.value < 0.05 ? '10⁻²' : datum.value < 0.5 ? '10⁻¹' : '10⁰'", "grid": true, "zindex": 1, "tickSize": 4.5, "labelPadding": 2, "labelFontSize": 18, "labelFlush": false, "labelOverlap": false, "title": "MSE", "titleFontSize": 23, "titleX": 211, "titleY": 46.5, "titleAlign": "center", "titleBaseline": "middle", "titleAngle": 0}}}},
    {"transform": [{"filter": {"field": "eps", "equal": "0.3"}}], "mark": {"type": "area", "opacity": 0.75, "strokeWidth": 1}, "encoding": {"x": {"field": "mse", "type": "quantitative", "scale": {"type": "log", "domain": [1.578e-5, 1.578], "nice": false}, "axis": {"orient": "bottom", "values": [0.00002,0.00003,0.00004,0.00005,0.00006,0.00007,0.00008,0.00009,0.0002,0.0003,0.0004,0.0005,0.0006,0.0007,0.0008,0.0009,0.002,0.003,0.004,0.005,0.006,0.007,0.008,0.009,0.02,0.03,0.04,0.05,0.06,0.07,0.08,0.09,0.2,0.3,0.4,0.5,0.6,0.7,0.8,0.9], "labels": false, "domain": false, "grid": false, "tickSize": 2.5, "title": "BIM", "titleFont": "Liberation Serif", "titleFontSize": 23, "titleFontWeight": "normal", "titleColor": "#333333", "titleX": 204.5, "titleY": 78, "titleAlign": "left", "titleBaseline": "middle", "titleAngle": 0}}}},
    {"transform": [{"filter": {"field": "eps", "equal": "0.5"}}], "mark": {"type": "area", "opacity": 0.75, "strokeWidth": 1}, "encoding": {"x": {"field": "mse", "type": "quantitative", "scale": {"type": "log", "domain": [1.578e-5, 1.578], "nice": false}, "axis": {"orient": "bottom", "labels": false, "ticks": false, "domain": false, "grid": false, "title": "(c)", "titleFont": "Liberation Serif", "titleFontSize": 25, "titleFontWeight": "bold", "titleColor": "black", "titleX": 156, "titleY": 78, "titleAlign": "left", "titleBaseline": "middle", "titleAngle": 0}}}},
    {"transform": [{"filter": {"field": "eps", "equal": "0.7"}}], "mark": {"type": "area", "opacity": 0.75, "strokeWidth": 1}, "encoding": {"x": {"field": "mse", "type": "quantitative", "scale": {"type": "log", "domain": [1.578e-5, 1.578], "nice": false}, "axis": null}}},
    {"transform": [{"filter": {"field": "eps", "equal": "0.9"}}], "mark": {"type": "area", "opacity": 0.75, "strokeWidth": 1}, "encoding": {"x": {"field": "mse", "type": "quantitative", "scale": {"type": "log", "domain": [1.578e-5, 1.578], "nice": false}, "axis": null}}}
  ],
  "resolve": {"axis": {"x": "independent"}}
},
{
  "width": 448, "height": 180,
  "data": {"name": "d"},
  "encoding": {
    "y": {"field": "count", "type": "quantitative", "stack": null, "scale": {"domain": [0, 338], "nice": false}, "axis": {"values": [0,50,100,150,200,250,300], "grid": true, "zindex": 1, "tickSize": 4.5, "labelPadding": 4, "labelFontSize": 18, "title": "Count", "titleFontSize": 23, "titleX": -64, "titleY": 90, "titleAlign": "center", "titleBaseline": "middle", "titleAngle": -90}},
    "color": {"field": "eps", "type": "nominal", "title": null, "scale": {"domain": ["0.01","0.3","0.5","0.7","0.9"], "range": ["#ff0000","#008000","#0000ff","#000000","#00bfbf"]}},
    "stroke": {"field": "eps", "type": "nominal", "title": null, "scale": {"domain": ["0.01","0.3","0.5","0.7","0.9"], "range": ["#ff0000","#008000","#0000ff","#000000","#00bfbf"]}}
  },
  "layer": [
    {"transform": [{"filter": {"field": "eps", "equal": "0.01"}}], "mark": {"type": "area", "opacity": 0.75, "strokeWidth": 1}, "encoding": {"x": {"field": "mse", "type": "quantitative", "scale": {"type": "log", "domain": [1.552e-5, 1.300], "nice": false}, "axis": {"orient": "bottom", "values": [0.0001, 0.001, 0.01, 0.1, 1], "labelExpr": "datum.value < 0.0005 ? '10⁻⁴' : datum.value < 0.005 ? '10⁻³' : datum.value < 0.05 ? '10⁻²' : datum.value < 0.5 ? '10⁻¹' : '10⁰'", "grid": true, "zindex": 1, "tickSize": 4.5, "labelPadding": 2, "labelFontSize": 18, "labelFlush": false, "labelOverlap": false, "title": "MSE", "titleFontSize": 23, "titleX": 211, "titleY": 46.5, "titleAlign": "center", "titleBaseline": "middle", "titleAngle": 0}}}},
    {"transform": [{"filter": {"field": "eps", "equal": "0.3"}}], "mark": {"type": "area", "opacity": 0.75, "strokeWidth": 1}, "encoding": {"x": {"field": "mse", "type": "quantitative", "scale": {"type": "log", "domain": [1.552e-5, 1.300], "nice": false}, "axis": {"orient": "bottom", "values": [0.00002,0.00003,0.00004,0.00005,0.00006,0.00007,0.00008,0.00009,0.0002,0.0003,0.0004,0.0005,0.0006,0.0007,0.0008,0.0009,0.002,0.003,0.004,0.005,0.006,0.007,0.008,0.009,0.02,0.03,0.04,0.05,0.06,0.07,0.08,0.09,0.2,0.3,0.4,0.5,0.6,0.7,0.8,0.9], "labels": false, "domain": false, "grid": false, "tickSize": 2.5, "title": "MIM", "titleFont": "Liberation Serif", "titleFontSize": 23, "titleFontWeight": "normal", "titleColor": "#333333", "titleX": 204.5, "titleY": 78, "titleAlign": "left", "titleBaseline": "middle", "titleAngle": 0}}}},
    {"transform": [{"filter": {"field": "eps", "equal": "0.5"}}], "mark": {"type": "area", "opacity": 0.75, "strokeWidth": 1}, "encoding": {"x": {"field": "mse", "type": "quantitative", "scale": {"type": "log", "domain": [1.552e-5, 1.300], "nice": false}, "axis": {"orient": "bottom", "labels": false, "ticks": false, "domain": false, "grid": false, "title": "(d)", "titleFont": "Liberation Serif", "titleFontSize": 25, "titleFontWeight": "bold", "titleColor": "black", "titleX": 156, "titleY": 78, "titleAlign": "left", "titleBaseline": "middle", "titleAngle": 0}}}},
    {"transform": [{"filter": {"field": "eps", "equal": "0.7"}}], "mark": {"type": "area", "opacity": 0.75, "strokeWidth": 1}, "encoding": {"x": {"field": "mse", "type": "quantitative", "scale": {"type": "log", "domain": [1.552e-5, 1.300], "nice": false}, "axis": null}}},
    {"transform": [{"filter": {"field": "eps", "equal": "0.9"}}], "mark": {"type": "area", "opacity": 0.75, "strokeWidth": 1}, "encoding": {"x": {"field": "mse", "type": "quantitative", "scale": {"type": "log", "domain": [1.552e-5, 1.300], "nice": false}, "axis": null}}}
  ],
  "resolve": {"axis": {"x": "independent"}}
}
]
}
